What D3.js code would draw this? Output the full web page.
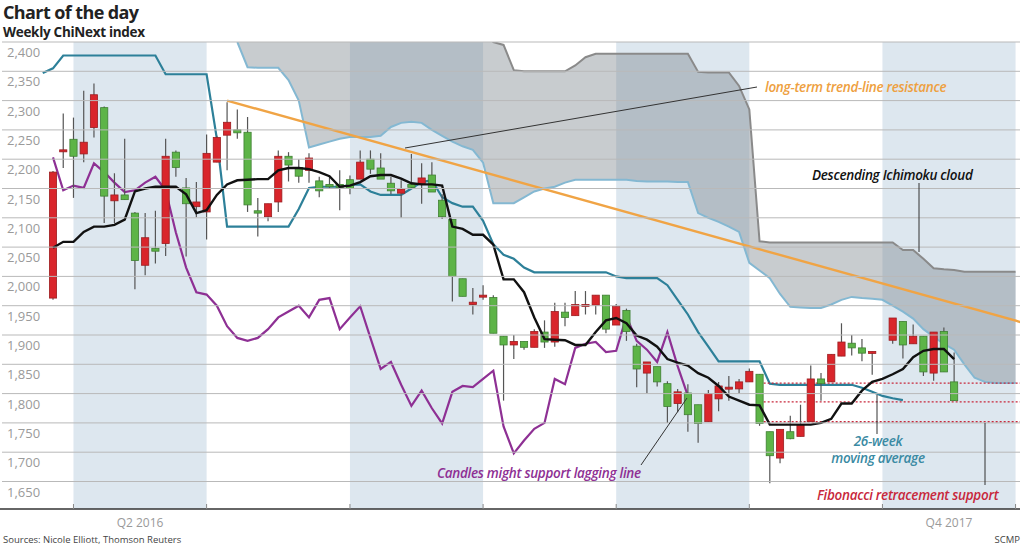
<!DOCTYPE html>
<html><head><meta charset="utf-8">
<script src="https://cdn.jsdelivr.net/npm/d3@7"></script>
<style>body{margin:0;background:#fff}svg{display:block}text{font-family:"Open Sans",sans-serif}</style>
</head><body><svg id="c" width="1024" height="547"></svg>
<script>
// ---- data ----
const yTicks = [2400,2350,2300,2250,2200,2150,2100,2050,2000,1950,1900,1850,1800,1750,1700,1650];
const quarterWeeks = [2,15,29,42,55,68,81,94];
const shadedQuarters = [[2,15],[29,42],[55,68],[81,94]];
const quarterLabels = [{w:8.5,t:"Q2 2016"},{w:87.5,t:"Q4 2017"}];
// candles: [open, close, high, low]  (week index = position)
const candles = [
[1963,2178,2180,1960],[2215,2216,2278,2185],[2234,2205,2271,2134],[2209,2229,2317,2195],[2254,2310,2329,2237],
[2288,2137,2290,2091],[2129,2139,2176,2091],[2139,2131,2235,2131],[2108,2027,2110,1978],[2019,2066,2108,2002],
[2048,2043,2112,2022],[2056,2205,2235,2035],[2212,2186,2215,2170],[2151,2124,2168,2034],[2119,2127,2161,2101],
[2110,2210,2242,2063],[2195,2237,2240,2195],[2241,2263,2297,2181],[2250,2245,2285,2235],[2246,2122,2272,2110],
[2112,2108,2134,2068],[2102,2124,2124,2094],[2127,2205,2215,2110],[2205,2190,2212,2162],[2186,2171,2200,2160],
[2181,2202,2210,2160],[2163,2146,2170,2135],[2157,2153,2170,2150],[2157,2152,2181,2113],[2165,2150,2172,2140],
[2166,2195,2215,2166],[2200,2183,2215,2175],[2185,2166,2210,2166],[2159,2146,2170,2140],[2142,2149,2164,2100],
[2157,2152,2209,2150],[2158,2168,2193,2124],[2173,2144,2195,2144],[2130,2102,2140,2098],[2097,2000,2097,1957],
[1996,1966,1996,1966],[1952,1956,1980,1935],[1968,1968,1985,1960],[1964,1903,1968,1903],[1898,1883,1898,1788],
[1883,1889,1900,1859],[1889,1879,1889,1875],[1879,1906,1910,1879],[1905,1888,1925,1878],[1888,1940,1955,1880],
[1939,1930,1955,1915],[1933,1952,1975,1933],[1952,1952,1975,1935],[1951,1968,1968,1935],[1968,1910,1968,1903],
[1917,1949,1953,1917],[1942,1906,1945,1890],[1881,1842,1885,1811],[1835,1854,1854,1800],[1846,1820,1846,1812],
[1817,1778,1821,1750],[1783,1803,1808,1768],[1801,1764,1816,1735],[1781,1749,1781,1716],[1752,1800,1806,1752],
[1791,1813,1820,1770],[1811,1811,1830,1788],[1808,1820,1825,1800],[1820,1838,1843,1820],[1833,1749,1833,1745],
[1735,1694,1735,1647],[1690,1739,1739,1681],[1735,1723,1762,1722],[1727,1747,1781,1727],[1752,1825,1848,1752],
[1825,1817,1835,1788],[1820,1867,1867,1820],[1864,1888,1920,1864],[1886,1878,1900,1865],[1878,1869,1893,1855],
[1871,1872,1872,1832],null,[1891,1929,1929,1885],[1923,1883,1923,1860],[1885,1898,1918,1885],
[1898,1837,1898,1830],[1835,1905,1905,1822],[1906,1837,1913,1837],[1820,1788,1870,1788]];
// black line (conversion line), weeks 0..88
const blackLine = [2049,2059,2059,2076,2085,2085,2088,2097,2145,2150,2153,2153,2153,2140,2108,2113,2139,2157,2164,2165,
2166,2166,2181,2185,2185,2183,2178,2171,2153,2155,2161,2171,2173,2173,2167,2159,2157,2157,2155,2085,
2081,2071,2071,2054,1995,1995,1973,1930,1893,1892,1891,1883,1883,1905,1925,1929,1920,1899,1892,1880,
1859,1853,1848,1835,1827,1813,1795,1788,1781,1780,1747,1747,1747,1747,1747,1750,1757,1783,1783,1805,
1820,1825,1833,1842,1862,1873,1876,1876,1859];
// 26-week moving average, weeks -1..83
const maStart = -1;
const ma26 = [2347,2355,2377,2377,2377,2377,2377,2377,2377,2377,2377,2377,2345,2345,2345,2345,2345,2235,2085,2085,
2085,2085,2085,2085,2085,2115,2151,2153,2153,2153,2156,2157,2145,2139,2139,2139,2150,2161,2164,2135,
2125,2119,2119,2095,2055,2037,2030,2015,2007,2007,2007,2007,2007,2007,2007,2007,2000,1997,1997,1997,
1997,1985,1960,1935,1905,1880,1855,1855,1855,1855,1855,1817,1815,1815,1815,1815,1815,1815,1815,1815,
1810,1803,1796,1792,1789];
// lagging line, weeks 0..62
const lagging = [2203,2147,2155,2151,2193,2178,2160,2144,2147,2160,2170,2147,2075,2015,1973,1969,1950,1915,1895,1890,
1895,1910,1930,1940,1950,1930,1960,1963,1910,1930,1949,1895,1842,1854,1815,1779,1805,1775,1749,1803,
1813,1811,1825,1839,1744,1698,1720,1740,1750,1825,1816,1878,1885,1888,1871,1873,1932,1890,1875,1854,
1905,1847,1796];
// cloud spans, weeks 18..94
const cloudStart = 18;
const spanA = [2400,2357,2356,2356,2356,2335,2300,2220,2225,2230,2235,2238,2238,2238,2240,2255,2262,2264,2262,2250,
2240,2230,2222,2216,2194,2125,2125,2125,2135,2145,2150,2153,2160,2165,2165,2165,2165,2165,2165,2163,
2162,2162,2162,2161,2161,2108,2100,2093,2085,2076,2023,2010,1997,1970,1948,1947,1946,1946,1952,1960,
1965,1963,1962,1960,1950,1940,1928,1910,1897,1885,1875,1850,1827,1820,1818,1818,1818];
const spanB = [2440,2440,2440,2440,2440,2440,2440,2440,2440,2440,2440,2440,2440,2440,2440,2440,2440,2440,2440,2440,
2440,2440,2440,2440,2420,2400,2395,2352,2350,2350,2350,2350,2350,2360,2374,2380,2380,2380,2380,2380,
2380,2380,2380,2380,2380,2349,2348,2348,2348,2325,2285,2060,2058,2058,2058,2058,2058,2058,2058,2058,
2058,2058,2058,2058,2058,2045,2045,2030,2014,2012,2011,2008,2008,2008,2008,2008,2008];
const trendLine = [[17,2300],[94.5,1922]];
const fibLevels = [1818,1786,1752];
const fibStart = 69.4;

// ---- drawing ----
const svg = d3.select("#c");
const x = d3.scaleLinear().domain([0,88]).range([53,53+88*10.24]);
const y = d3.scaleLinear().domain([1650,2400]).range([481.5,42]);
const pTop=42, pBottom=509, pRight=1020;
svg.append("defs").append("clipPath").attr("id","clip").append("rect").attr("x",0).attr("y",pTop).attr("width",pRight).attr("height",pBottom-pTop);
const g = svg.append("g").attr("clip-path","url(#clip)");

g.selectAll(".band").data(shadedQuarters).join("rect").attr("x",d=>x(d[0])).attr("width",d=>Math.min(x(d[1]),pRight)-x(d[0]))
 .attr("y",pTop).attr("height",pBottom-pTop).attr("fill","#dde7ef");
svg.selectAll(".grid").data(yTicks).join("line").attr("x1",2).attr("x2",pRight).attr("y1",d=>y(d)).attr("y2",d=>y(d))
 .attr("stroke","#b9b9b9").attr("stroke-width",1);
svg.selectAll(".yl").data(yTicks).join("text").attr("x",7).attr("y",d=>y(d)+15).text(d=>d3.format(",")(d))
 .attr("fill","#9a9a9a").attr("font-size",13);

const cloud = spanA.map((a,i)=>({w:cloudStart+i,a,b:spanB[i]}));
g.append("path").datum(cloud).attr("d",d3.area().x(d=>x(d.w)).y0(d=>y(d.a)).y1(d=>y(d.b)))
 .attr("fill","#7d858d").attr("opacity",0.42);
g.append("path").datum(cloud).attr("d",d3.line().x(d=>x(d.w)).y(d=>y(d.b))).attr("fill","none").attr("stroke","#8a8a8a").attr("stroke-width",2);
g.append("path").datum(cloud).attr("d",d3.line().x(d=>x(d.w)).y(d=>y(d.a))).attr("fill","none").attr("stroke","#84b8d2").attr("stroke-width",2);

const ln = d3.line().x(d=>x(d[0])).y(d=>y(d[1]));
g.append("path").attr("d",ln(ma26.map((v,i)=>[maStart+i,v]))).attr("fill","none").attr("stroke","#2d8099").attr("stroke-width",2.2);
g.append("path").attr("d",ln(lagging.map((v,i)=>[i,v]))).attr("fill","none").attr("stroke","#8e3094").attr("stroke-width",2.2);

g.selectAll(".fib").data(fibLevels).join("line").attr("x1",x(fibStart)).attr("x2",pRight).attr("y1",d=>y(d)).attr("y2",d=>y(d))
 .attr("stroke","#c8283c").attr("stroke-width",1.3).attr("stroke-dasharray","2,2");

const cs = candles.map((c,i)=>c?{i,o:c[0],c:c[1],h:c[2],l:c[3]}:null).filter(Boolean);
const cg = g.selectAll(".cd").data(cs).join("g");
cg.append("line").attr("x1",d=>x(d.i)).attr("x2",d=>x(d.i)).attr("y1",d=>y(d.h)).attr("y2",d=>y(d.l)).attr("stroke","#555").attr("stroke-width",1.2);
cg.append("rect").attr("x",d=>x(d.i)-3.6).attr("width",7.2)
 .attr("y",d=>y(Math.max(d.o,d.c))).attr("height",d=>Math.max(2,Math.abs(y(d.o)-y(d.c))))
 .attr("fill",d=>d.c>=d.o?"#d9252b":"#5db447").attr("stroke",d=>d.c>=d.o?"#9c1d20":"#3f7f32").attr("stroke-width",0.8);

g.append("path").attr("d",ln(blackLine.map((v,i)=>[i,v]))).attr("fill","none").attr("stroke","#111").attr("stroke-width",2.4);
g.append("path").attr("d",ln(trendLine)).attr("fill","none").attr("stroke","#f0a445").attr("stroke-width",2.4);

// axis
svg.append("line").attr("x1",0).attr("x2",pRight).attr("y1",pBottom).attr("y2",pBottom).attr("stroke","#333").attr("stroke-width",1.5);
svg.selectAll(".qt").data(quarterWeeks).join("line").attr("x1",d=>x(d)).attr("x2",d=>x(d)).attr("y1",pBottom-5).attr("y2",pBottom)
 .attr("stroke","#888");
svg.selectAll(".ql").data(quarterLabels).join("text").attr("x",d=>x(d.w)).attr("y",527).attr("text-anchor","middle")
 .attr("fill","#9a9a9a").attr("font-size",12).text(d=>d.t);

// titles
svg.append("text").attr("x",3).attr("y",19).text("Chart of the day").attr("font-size",18).attr("font-weight",700).attr("fill","#222").attr("letter-spacing",-0.6);
svg.append("text").attr("x",3).attr("y",37).text("Weekly ChiNext index").attr("font-size",13.5).attr("font-weight",700).attr("fill","#222").attr("letter-spacing",-0.3);
svg.append("text").attr("x",3).attr("y",543).text("Sources: Nicole Elliott, Thomson Reuters").attr("font-size",9.5).attr("fill","#444");
svg.append("text").attr("x",1020).attr("y",543).attr("text-anchor","end").text("SCMP").attr("font-size",9.5).attr("fill","#444");

// annotations
function lead(x1,y1,x2,y2){svg.append("line").attr("x1",x1).attr("y1",y1).attr("x2",x2).attr("y2",y2).attr("stroke","#333").attr("stroke-width",1);}
lead(405,148,757,87); lead(919,183,919,252); lead(877,395,877,434); lead(985,423,985,485); lead(641,465,687,398);
function ann(xx,yy,t,c,anchor){svg.append("text").attr("x",xx).attr("y",yy).attr("text-anchor",anchor||"start").text(t)
 .attr("fill",c).attr("font-size",13.5).attr("font-style","italic").attr("font-weight",600).attr("letter-spacing",-0.3);}
ann(765,92,"long-term trend-line resistance","#eea040");
ann(812,180,"Descending Ichimoku cloud","#111");
ann(878,446,"26-week","#3a8aa3","middle");
ann(878,463,"moving average","#3a8aa3","middle");
ann(817,500,"Fibonacci retracement support","#c8283c");
ann(437,478,"Candles might support lagging line","#8e3094");
</script></body></html>
